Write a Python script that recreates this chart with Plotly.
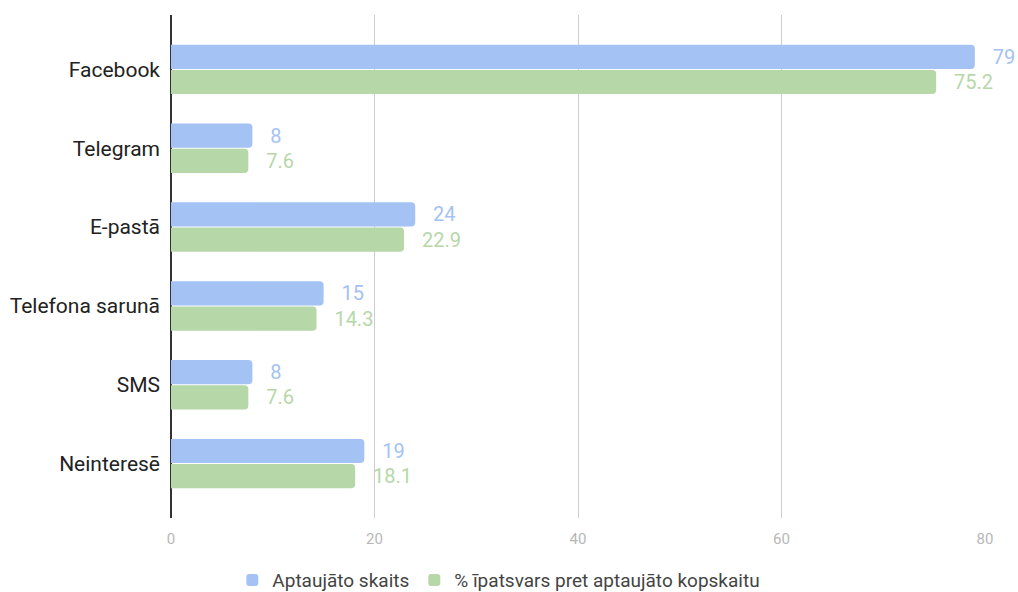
import plotly.graph_objects as go

categories = ["Facebook", "Telegram", "E-pastā", "Telefona sarunā", "SMS", "Neinteresē"]
counts = [79, 8, 24, 15, 8, 19]
percents = [75.2, 7.6, 22.9, 14.3, 7.6, 18.1]
series_names = ["Aptaujāto skaits", "% īpatsvars pret aptaujāto kopskaitu"]
x_ticks = [0, 20, 40, 60, 80]

BLUE = "#a4c2f4"
GREEN = "#b6d7a8"
FONT = "Roboto, Arial, sans-serif"

fig = go.Figure()
fig.add_trace(go.Bar(
    y=categories, x=counts, orientation="h", name=series_names[0],
    marker=dict(color=BLUE, line=dict(width=0)),
    text=[str(v) for v in counts], texttemplate="   %{text}",
    textposition="outside", cliponaxis=False,
    textfont=dict(color=BLUE, size=20, family=FONT),
))
fig.add_trace(go.Bar(
    y=categories, x=percents, orientation="h", name=series_names[1],
    marker=dict(color=GREEN, line=dict(width=0)),
    text=[f"{v:.1f}" for v in percents], texttemplate="   %{text}",
    textposition="outside", cliponaxis=False,
    textfont=dict(color=GREEN, size=20, family=FONT),
))

fig.update_layout(
    width=1018, height=592,
    margin=dict(l=171, r=33, t=15, b=74),
    paper_bgcolor="white", plot_bgcolor="white",
    barmode="group", bargap=0.36, bargroupgap=0.04,
    barcornerradius=4,
    font=dict(family=FONT),
    showlegend=True,
    legend=dict(
        orientation="h", xref="container", yref="container",
        x=0.49, xanchor="center", y=0.02, yanchor="middle",
        font=dict(size=19, color="#444444", family=FONT),
        traceorder="normal", itemwidth=30,
    ),
)
fig.update_xaxes(
    range=[0, 80], tickvals=x_ticks, ticktext=[str(t) for t in x_ticks],
    showgrid=True, gridcolor="#cccccc", gridwidth=1,
    zeroline=True, zerolinecolor="#333333", zerolinewidth=1.5,
    tickfont=dict(size=15, color="#b7b7b7", family=FONT),
    ticks="", ticklabelstandoff=10, showline=False, automargin=False,
)
fig.update_yaxes(
    categoryorder="array", categoryarray=categories,
    autorange=False, range=[5.69, -0.69],
    tickfont=dict(size=21, color="#222222", family=FONT),
    ticks="", ticklabelstandoff=10, showgrid=False, showline=False,
    automargin=False,
)

fig.write_html("out.html")
